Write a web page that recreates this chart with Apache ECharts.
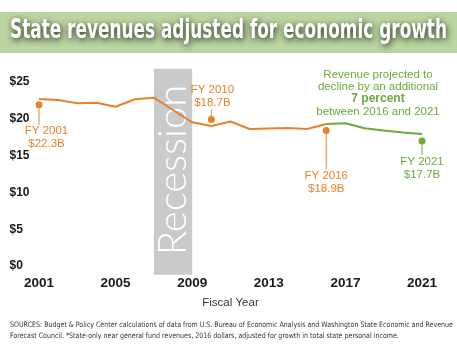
<!DOCTYPE html>
<html><head><meta charset="utf-8">
<script src="https://cdn.jsdelivr.net/npm/echarts@6/dist/echarts.min.js"></script>
<style>html,body{margin:0;padding:0;background:#fff}#c{width:457px;height:356px}</style>
</head><body><div id="c"></div>
<script>
const years = ['2001','2002','2003','2004','2005','2006','2007','2008','2009','2010','2011',
  '2012','2013','2014','2015','2016','2017','2018','2019','2020','2021'];
const actualRevenue = [22.69,22.55,22.11,22.19,21.64,22.65,22.87,21.20,19.52,19.02,19.63,
  18.61,18.68,18.75,18.61,19.29,null,null,null,null,null];
const projectedRevenue = [null,null,null,null,null,null,null,null,null,null,null,
  null,null,null,null,19.29,19.39,18.71,18.41,18.14,17.93];
const yTicks = [0,5,10,15,20,25];
const recessionStart = '2007', recessionEnd = '2009';
const recessionTop = 26.8, recessionBottom = -1.2;
const annYears = ['2001','2010','2016','2021'];
const annValues = [21.9, 19.9, 18.4, 17.0];
const annLabels = ['FY 2001\n$22.3B','FY 2010\n$18.7B','FY 2016\n$18.9B','FY 2021\n$17.7B'];
const noteLines = ['Revenue projected to','decline by an additional','7 percent','between 2016 and 2021'];
const titleText = 'State revenues adjusted for economic growth';
const sourceLines = ['SOURCES: Budget & Policy Center calculations of data from U.S. Bureau of Economic Analysis and Washington State Economic and Revenue',
  'Forecast Council. *State-only near general fund revenues, 2016 dollars, adjusted for growth in total state personal income.'];

const ORANGE = '#e8802c', GREEN = '#6aab3c';
const annColor = [ORANGE, ORANGE, ORANGE, GREEN];
const annStyle = [
  {dir: 1, len: 20, dx: 7.5},
  {dir: -1, len: 10, dx: 1},
  {dir: 1, len: 39, dx: 0},
  {dir: 1, len: 14, dx: 0}
];

function measure(text, font){
  const ctx = document.createElement('canvas').getContext('2d');
  ctx.font = font; return ctx.measureText(text).width;
}
const titleFont = 'bold 26px "Liberation Sans Narrow", "DejaVu Sans Condensed", sans-serif';
const titleScale = 437 / measure(titleText, titleFont);
const srcFont = '7.5px "Liberation Sans Narrow", "DejaVu Sans Condensed", sans-serif';
const srcScale = 443 / measure(sourceLines[0], srcFont);

const chart = echarts.init(document.getElementById('c'), null, {renderer:'canvas'});
chart.setOption({
  backgroundColor:'#fff',
  animation:false,
  grid:{left:39, right:35, top:82, bottom:90},
  xAxis:{type:'category', data:years, boundaryGap:false,
    axisLine:{show:false}, axisTick:{show:false}, splitLine:{show:false},
    axisLabel:{interval:3, margin:10, color:'#1a1a1a', fontFamily:'"Liberation Sans Narrow", sans-serif', fontWeight:'bold', fontSize:13.5},
    name:'Fiscal Year', nameLocation:'middle', nameGap:31,
    nameTextStyle:{color:'#333', fontFamily:'"Liberation Sans Narrow", sans-serif', fontSize:11.5}
  },
  yAxis:{type:'value', min:yTicks[0], max:yTicks[yTicks.length-1], interval:5,
    axisLine:{show:false}, axisTick:{show:false}, splitLine:{show:false},
    axisLabel:{align:'left', margin:29.5, color:'#1a1a1a', fontFamily:'"Liberation Sans", Arial, sans-serif', fontWeight:'bold', fontSize:12,
      formatter:v=>'$'+v}
  },
  graphic:[
    {type:'rect', left:0, top:12, shape:{width:457, height:41}, style:{fill:'#bbd4a1'}, z:0},
    {type:'text', x:228.5, y:31, scaleX:titleScale, z:1,
      style:{text:titleText, font:titleFont, fill:'#fff', align:'center', verticalAlign:'middle',
        textShadowColor:'rgba(20,30,15,0.95)', textShadowBlur:6, textShadowOffsetX:1, textShadowOffsetY:2}},
    {type:'text', x:378, y:74.5, z:10, style:{text:noteLines[0], font:'11.5px "Liberation Sans Narrow", sans-serif', fill:GREEN, align:'center', verticalAlign:'middle'}},
    {type:'text', x:378, y:86.5, z:10, style:{text:noteLines[1], font:'11.5px "Liberation Sans Narrow", sans-serif', fill:GREEN, align:'center', verticalAlign:'middle'}},
    {type:'text', x:378, y:99, z:10, style:{text:noteLines[2], font:'bold 12px "Liberation Sans Narrow", sans-serif', fill:GREEN, align:'center', verticalAlign:'middle'}},
    {type:'text', x:378, y:111.5, z:10, style:{text:noteLines[3], font:'11.5px "Liberation Sans Narrow", sans-serif', fill:GREEN, align:'center', verticalAlign:'middle'}},
    {type:'text', x:10, y:325, scaleX:srcScale, z:10, style:{text:sourceLines[0], font:srcFont, fill:'#333', align:'left', verticalAlign:'middle'}},
    {type:'text', x:10, y:336.5, scaleX:srcScale, z:10, style:{text:sourceLines[1], font:srcFont, fill:'#333', align:'left', verticalAlign:'middle'}}
  ],
  series:[
    {type:'custom', z:1, silent:true, data:[[0]],
      renderItem:(params, api)=>{
        const a = api.coord([years.indexOf(recessionStart), recessionTop]);
        const b = api.coord([years.indexOf(recessionEnd), recessionBottom]);
        return {type:'group', children:[
          {type:'rect', shape:{x:a[0], y:a[1], width:b[0]-a[0], height:b[1]-a[1]}, style:{fill:'#c9cacc'}},
          {type:'text', x:(a[0]+b[0])/2, y:170, rotation:Math.PI/2,
            style:{text:'Recession', font:'300 40px Lato, "Open Sans", sans-serif', fill:'#fff', align:'center', verticalAlign:'middle'}}
        ]};
      }},
    {type:'line', z:3, data:actualRevenue, showSymbol:false, lineStyle:{color:ORANGE, width:2}, itemStyle:{color:ORANGE}},
    {type:'line', z:3, data:projectedRevenue, showSymbol:false, lineStyle:{color:GREEN, width:2}, itemStyle:{color:GREEN}},
    {type:'custom', z:4, silent:true,
      data: annYears.map((y,i)=>[years.indexOf(y), annValues[i], i]),
      renderItem:(params, api)=>{
        const i = api.value(2);
        const p = api.coord([api.value(0), api.value(1)]);
        const st = annStyle[i], col = annColor[i];
        const end = p[1] + st.dir*st.len;
        return {type:'group', children:[
          {type:'line', shape:{x1:p[0], y1:p[1], x2:p[0], y2:end}, style:{stroke:col, lineWidth:1}},
          {type:'circle', shape:{cx:p[0], cy:p[1], r:3.5}, style:{fill:col}},
          {type:'text', x:p[0]+st.dx, y:end, style:{text:annLabels[i], fill:col,
            font:'11.5px "Liberation Sans Narrow", sans-serif', lineHeight:13, align:'center',
            verticalAlign: st.dir>0 ? 'top' : 'bottom'}}
        ]};
      }}
  ]
});
</script></body></html>
